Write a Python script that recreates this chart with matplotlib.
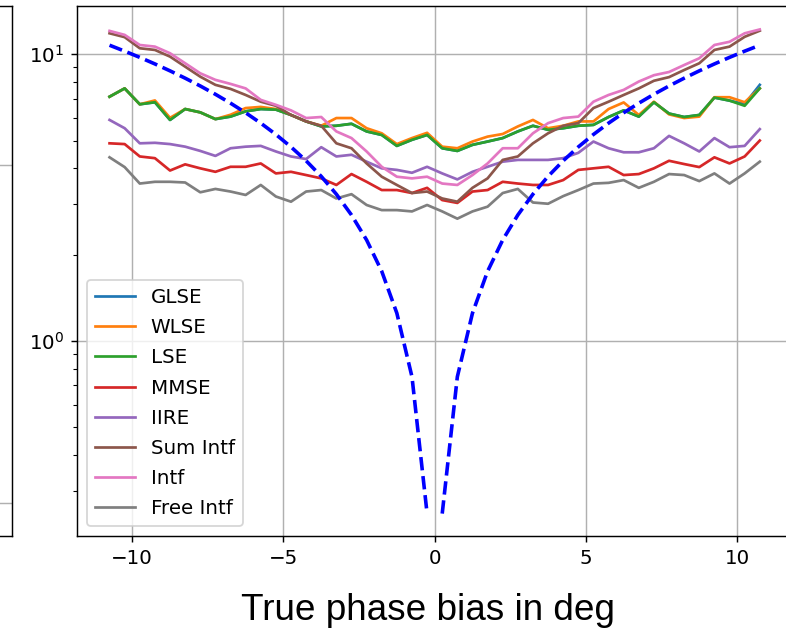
import matplotlib
matplotlib.use('Agg')
import matplotlib.pyplot as plt

plt.rcParams['font.size'] = 11

# phase bias grid (deg)
phase_bias = [-10.75, -10.25, -9.75, -9.25, -8.75, -8.25, -7.75, -7.25, -6.75, -6.25, -5.75,
              -5.25, -4.75, -4.25, -3.75, -3.25, -2.75, -2.25, -1.75, -1.25, -0.75, -0.25,
              0.25, 0.75, 1.25, 1.75, 2.25, 2.75, 3.25, 3.75, 4.25, 4.75, 5.25,
              5.75, 6.25, 6.75, 7.25, 7.75, 8.25, 8.75, 9.25, 9.75, 10.25, 10.75]

glse = [7.11, 7.60, 6.69, 6.80, 5.90, 6.44, 6.27, 5.94, 6.06,
        6.32, 6.44, 6.41, 6.14, 5.83, 5.60, 5.63, 5.72, 5.38,
        5.23, 4.79, 5.03, 5.23, 4.70, 4.60, 4.83, 4.96, 5.10,
        5.38, 5.63, 5.45, 5.52, 5.63, 5.67, 6.04, 6.37,
        6.06, 6.80, 6.21, 6.04, 6.14, 7.06, 6.89, 6.70, 7.82]
wlse = [7.11, 7.60, 6.69, 6.90, 6.00, 6.44, 6.27, 5.94, 6.15,
        6.49, 6.55, 6.44, 6.14, 5.83, 5.63, 5.99, 5.99, 5.52,
        5.30, 4.86, 5.10, 5.32, 4.76, 4.70, 4.96, 5.16, 5.27,
        5.60, 5.90, 5.52, 5.63, 5.83, 5.83, 6.44, 6.79,
        6.14, 6.83, 6.17, 5.99, 6.06, 7.08, 7.08, 6.80, 7.60]
lse = [7.11, 7.60, 6.69, 6.80, 5.90, 6.44, 6.27, 5.94, 6.06,
       6.32, 6.44, 6.41, 6.14, 5.83, 5.60, 5.63, 5.72, 5.38,
       5.23, 4.79, 5.03, 5.23, 4.70, 4.60, 4.83, 4.96, 5.10,
       5.38, 5.63, 5.45, 5.52, 5.63, 5.67, 6.04, 6.37,
       6.06, 6.80, 6.21, 6.04, 6.14, 7.06, 6.89, 6.61, 7.60]
mmse = [4.89, 4.86, 4.40, 4.34, 3.93, 4.13, 4.00, 3.89, 4.05,
        4.05, 4.16, 3.84, 3.89, 3.79, 3.69, 3.50, 3.82, 3.59,
        3.36, 3.36, 3.28, 3.42, 3.10, 3.03, 3.32, 3.36, 3.59,
        3.54, 3.50, 3.50, 3.64, 3.95, 4.00, 4.05, 3.79,
        3.82, 4.00, 4.25, 4.14, 4.04, 4.37, 4.16, 4.40, 5.00]
iire = [5.90, 5.52, 4.89, 4.91, 4.86, 4.76, 4.60, 4.42, 4.70,
        4.76, 4.79, 4.58, 4.40, 4.31, 4.74, 4.40, 4.46, 4.22,
        4.00, 3.95, 3.86, 4.05, 3.84, 3.66, 3.89, 4.05, 4.22,
        4.28, 4.28, 4.28, 4.34, 4.53, 4.96, 4.70, 4.55,
        4.55, 4.70, 5.19, 4.89, 4.58, 5.10, 4.74, 4.79, 5.48]
sum_intf = [11.83, 11.47, 10.49, 10.35, 9.81, 9.05, 8.35, 7.82, 7.57,
            7.21, 6.83, 6.61, 6.14, 5.83, 5.63, 4.89, 4.70, 4.16,
            3.74, 3.50, 3.28, 3.32, 3.14, 3.06, 3.42, 3.69, 4.28,
            4.40, 4.89, 5.30, 5.63, 5.75, 6.49, 6.83, 7.21,
            7.60, 8.08, 8.32, 8.81, 9.30, 10.35, 10.63, 11.50, 12.08]
intf = [12.06, 11.68, 10.77, 10.63, 10.08, 9.30, 8.58, 8.14, 7.88,
        7.60, 6.93, 6.66, 6.37, 5.99, 6.04, 5.38, 5.10, 4.58,
        4.05, 3.74, 3.69, 3.74, 3.54, 3.50, 3.79, 4.16, 4.70,
        4.70, 5.30, 5.75, 5.99, 6.06, 6.83, 7.21, 7.51,
        8.03, 8.45, 8.67, 9.17, 9.68, 10.77, 11.05, 11.83, 12.20]
free_intf = [4.37, 4.04, 3.54, 3.59, 3.59, 3.57, 3.30, 3.39, 3.32,
             3.23, 3.50, 3.19, 3.06, 3.32, 3.36, 3.14, 3.25, 2.98,
             2.86, 2.86, 2.83, 2.98, 2.83, 2.67, 2.83, 2.94, 3.28,
             3.39, 3.04, 3.01, 3.20, 3.36, 3.54, 3.56, 3.64,
             3.42, 3.59, 3.82, 3.79, 3.61, 3.84, 3.54, 3.84, 4.22]
# dashed reference curve
bound = [10.75, 10.25, 9.75, 9.25, 8.75, 8.25, 7.75, 7.25, 6.75, 6.25, 5.75,
         5.25, 4.75, 4.25, 3.75, 3.25, 2.75, 2.25, 1.75, 1.25, 0.75, 0.25,
         0.25, 0.75, 1.25, 1.75, 2.25, 2.75, 3.25, 3.75, 4.25, 4.75, 5.25,
         5.75, 6.25, 6.75, 7.25, 7.75, 8.25, 8.75, 9.25, 9.75, 10.25, 10.75]

series = [('GLSE', glse), ('WLSE', wlse), ('LSE', lse), ('MMSE', mmse), ('IIRE', iire),
          ('Sum Intf', sum_intf), ('Intf', intf), ('Free Intf', free_intf)]

fig = plt.figure(figsize=(786 / 130, 629 / 130), dpi=130)

# edge of the neighbouring subplot, cut off in the screenshot
ax0 = fig.add_axes([-0.6, 0.148, 0.6149, 0.8426])
ax0.set_xticks([])
ax0.set_yticks([0.062, 0.699])
ax0.tick_params(labelleft=False, left=False)
ax0.grid(True)

ax = fig.add_axes([0.098, 0.148, 0.910, 0.8426])
for name, vals in series:
    ax.plot(phase_bias, vals, label=name)
half = len(phase_bias) // 2
ax.plot(phase_bias[:half], bound[:half], 'b--', lw=2)
ax.plot(phase_bias[half:], bound[half:], 'b--', lw=2)

ax.set_yscale('log')
ax.set_ylim(0.209, 14.74)
ax.grid(True)
ax.legend(loc='lower left', labelspacing=0.56)

fig.text(0.544, 1 - 620 / 629, 'True phase bias in deg', ha='center', va='baseline',
         fontsize=20.4, family=['Liberation Sans', 'DejaVu Sans'])

plt.savefig('out.png', dpi=130)
